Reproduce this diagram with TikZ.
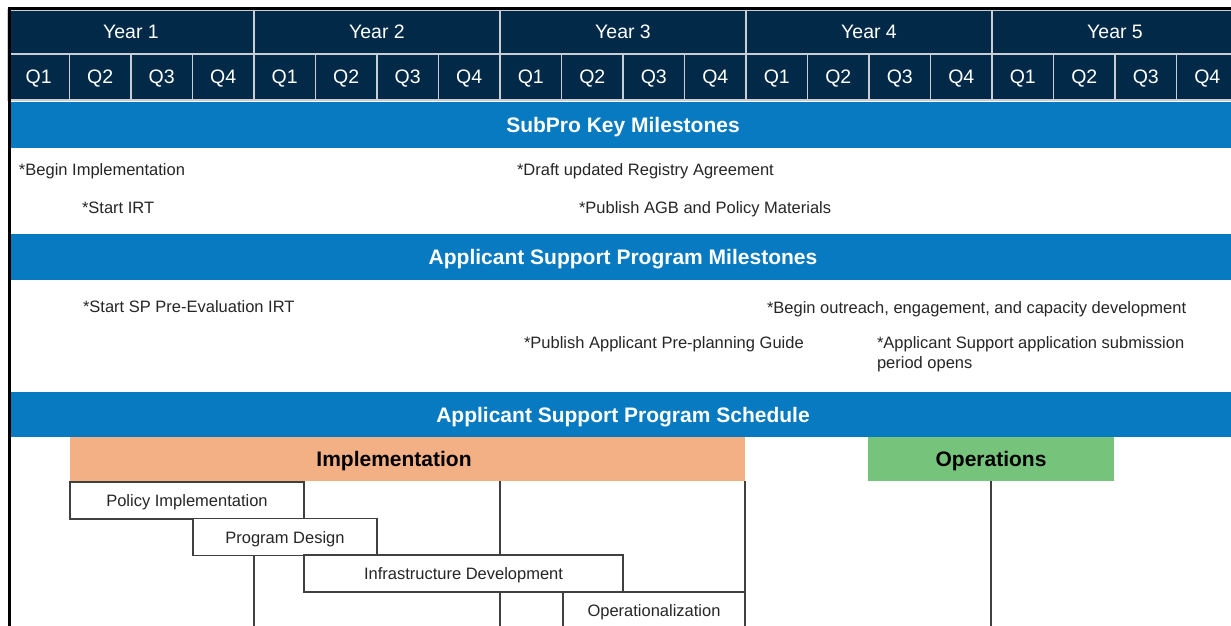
\documentclass[tikz,border=0pt]{standalone}
\usepackage{fontspec}
\setmainfont{Liberation Sans}
\usetikzlibrary{positioning}
\definecolor{navy}{RGB}{2,42,72}
\definecolor{band}{RGB}{7,122,193}
\definecolor{peach}{RGB}{242,176,132}
\definecolor{leaf}{RGB}{118,196,123}
\definecolor{boxline}{RGB}{64,64,64}
\definecolor{hdrline}{RGB}{200,206,212}
\begin{document}
\begin{tikzpicture}[x=1pt,y=-1pt]
  \tikzstyle{every node}=[inner sep=0pt,outer sep=0pt]
  \tikzstyle{hdr}=[fill=navy,draw=hdrline,line width=1.5pt,text=white,font=\fontsize{19.5}{23}\selectfont,text height=14pt,text depth=0pt]
  \tikzstyle{bar}=[fill=band,text=white,minimum width=1231pt,minimum height=46pt,font=\fontsize{21}{25}\selectfont\bfseries,text height=15pt,text depth=0pt]
  \tikzstyle{ms}=[anchor=base west,text=black!85,font=\fontsize{16.5}{20}\selectfont]
  \tikzstyle{phase}=[minimum height=44pt,font=\fontsize{21}{25}\selectfont\bfseries,text height=15pt,text depth=0pt]
  \tikzstyle{task}=[draw=boxline,line width=1.3pt,fill=white,text=black!85,minimum height=37pt,font=\fontsize{16.5}{20}\selectfont,text height=12pt,text depth=0pt]
  \tikzstyle{link}=[draw=boxline,line width=1.3pt]
  \useasboundingbox (0,0) rectangle (1231,626);
  \clip (0,0) rectangle (1231,626);
  \fill[white] (0,0) rectangle (1231,626);
  \foreach \i in {1,...,5}
    \node[hdr,minimum width=246pt,minimum height=44pt] (y\i) at ({8+246*(\i-0.5)},32) {Year \i};
  \foreach \i in {1,...,20} {
    \pgfmathtruncatemacro\q{mod(\i-1,4)+1}
    \node[hdr,minimum width=61.5pt,minimum height=46pt] (q\i) at ({8+61.5*(\i-0.5)},77) {Q\q};
  }
  \node[bar] (subpro) at (623,125) {SubPro Key Milestones};
  \node[bar] (aspm) at (623,257) {Applicant Support Program Milestones};
  \node[bar,minimum height=45pt] (asps) at (623,414.5) {Applicant Support Program Schedule};
  \node[ms] (m1) at (19,175) {*Begin Implementation};
  \node[ms] (m2) at (82,213) {*Start IRT};
  \node[ms] (m3) at (517,175) {*Draft updated Registry Agreement};
  \node[ms] (m4) at (579,213) {*Publish AGB and Policy Materials};
  \node[ms] (m5) at (83,312) {*Start SP Pre-Evaluation IRT};
  \node[ms] (m6) at (767,313) {*Begin outreach, engagement, and capacity development};
  \node[ms] (m7) at (524,348) {*Publish Applicant Pre-planning Guide};
  \node[ms,align=left] (m8) at (877,368) {*Applicant Support application submission\\period opens};
  \node[phase,fill=peach,minimum width=675pt] (impl) at (407.5,459) {\hspace*{-27pt}Implementation};
  \node[phase,fill=leaf,minimum width=246pt] (ops) at (991,459) {Operations};
  \node[task,minimum width=234pt] (pol) at (187,500.5) {Policy Implementation};
  \node[task,minimum width=184pt] (pd) at (285,537) {Program Design};
  \node[task,minimum width=319pt] (infra) at (463.5,573.5) {Infrastructure Development};
  \node[task,minimum width=182pt] (oper) at (654,610.5) {Operationalization};
  \coordinate (bot) at (0,632);
  \draw[link] (pd.south -| y1.east) -- (y1.east |- bot);
  \draw[link] (impl.south -| y2.east) -- (infra.north -| y2.east);
  \draw[link] (infra.south -| y2.east) -- (y2.east |- bot);
  \draw[link] (impl.south east) -- (oper.north east);
  \draw[link] (ops.south) -- (ops.south |- bot);
  \draw[black,line width=3.5pt] (9.5,632) -- (9.5,8.5) -- (1235,8.5);
\end{tikzpicture}
\end{document}
